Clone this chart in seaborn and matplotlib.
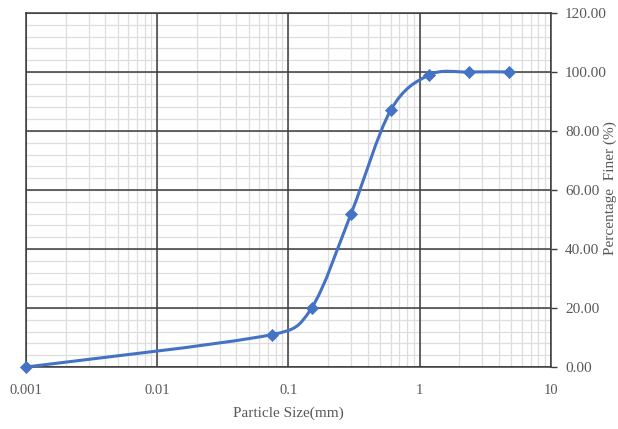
import numpy as np
import pandas as pd
import matplotlib
matplotlib.use("Agg")
import matplotlib.pyplot as plt
from matplotlib.path import Path
from matplotlib.patches import PathPatch
from matplotlib.ticker import FixedLocator, LogLocator, MultipleLocator, NullFormatter
import seaborn as sns

# Sieve analysis results
particle_size_mm = [0.001, 0.075, 0.15, 0.3, 0.6, 1.18, 2.36, 4.75]
percent_finer = [0.0, 11.0, 20.0, 52.0, 87.0, 99.0, 100.0, 100.0]
x_tick_values = [0.001, 0.01, 0.1, 1, 10]
x_tick_labels = ["0.001", "0.01", "0.1", "1", "10"]
y_tick_values = [0, 20, 40, 60, 80, 100, 120]

df = pd.DataFrame({"size": particle_size_mm, "finer": percent_finer})

sns.set_theme(style="white")
plt.rcParams["font.family"] = ["Liberation Serif", "DejaVu Serif"]

W, H = 618, 429
left, right, top, bottom = 26, 551, 13, 367
fig = plt.figure(figsize=(W / 100, H / 100), dpi=100)
ax = fig.add_axes([left / W, 1 - bottom / H, (right - left) / W, (bottom - top) / H])
ax.set_xscale("log")
ax.set_xlim(0.001, 10)
ax.set_ylim(0, 120)

# Light minor grid; dark major lines drawn on top of it
ax.xaxis.set_major_locator(FixedLocator(x_tick_values))
ax.xaxis.set_minor_locator(LogLocator(base=10, subs=np.arange(2, 10)))
ax.xaxis.set_minor_formatter(NullFormatter())
ax.yaxis.set_major_locator(FixedLocator(y_tick_values))
ax.yaxis.set_minor_locator(MultipleLocator(4))
ax.grid(which="both", color="#dedede", linewidth=0.9)
ax.set_axisbelow(True)
for xv in x_tick_values:
    ax.axvline(xv, color="#3c3c3c", linewidth=1.1, zorder=1.5)
for yv_ in y_tick_values:
    ax.axhline(yv_, color="#3c3c3c", linewidth=1.1, zorder=1.5)

# Smoothed curve through the points: cubic Bezier segments whose control
# handles are computed in screen proportions (log-x), capped at half a segment
px_per_decade = (right - left) / 4.0
px_per_unit = (bottom - top) / 120.0
sx = (np.log10(df["size"].to_numpy()) + 3) * px_per_decade
sy = df["finer"].to_numpy() * px_per_unit
pts = np.column_stack([sx, sy])
n = len(pts)


def handle(a, b, seg_len):
    d = b - a
    length = np.hypot(*d)
    if length == 0:
        return np.zeros(2)
    mag = min(length / 6.0, seg_len / 2.0)
    return d / length * mag


verts = [pts[0]]
codes = [Path.MOVETO]
for i in range(n - 1):
    p0 = pts[max(i - 1, 0)]
    p1 = pts[i]
    p2 = pts[i + 1]
    p3 = pts[min(i + 2, n - 1)]
    seg = np.hypot(*(p2 - p1))
    c1 = p1 + handle(p0, p2, seg)
    c2 = p2 - handle(p1, p3, seg)
    verts += [c1, c2, p2]
    codes += [Path.CURVE4] * 3
verts = np.array(verts)
data_verts = np.column_stack([10 ** (verts[:, 0] / px_per_decade - 3),
                              verts[:, 1] / px_per_unit])
curve = PathPatch(Path(data_verts, codes), facecolor="none", edgecolor="#4472c4",
                  linewidth=2.2, zorder=3, capstyle="round", joinstyle="round")
ax.add_patch(curve)

sns.scatterplot(data=df, x="size", y="finer", marker="D", s=38, color="#4472c4",
                edgecolor="#4472c4", linewidth=0.5, zorder=4, ax=ax, legend=False,
                clip_on=False)

# Axes styling
for side in ["left", "top", "bottom", "right"]:
    ax.spines[side].set_visible(True)
    ax.spines[side].set_color("#3c3c3c")
    ax.spines[side].set_linewidth(1.1)
    ax.spines[side].set_zorder(1.6)

ax.yaxis.tick_right()
ax.set_yticklabels([f"{v:.2f}" for v in y_tick_values])
ax.set_xticklabels(x_tick_labels)
ax.tick_params(axis="y", which="major", direction="out", length=4, width=1,
               color="#3c3c3c", labelsize=11, labelcolor="#595959", pad=6,
               right=True, left=False)
ax.tick_params(axis="y", which="minor", length=0)
ax.tick_params(axis="x", which="both", length=0, labelsize=10.5,
               labelcolor="#595959", pad=12)

ax.set_xlabel("Particle Size(mm)", fontsize=11, color="#595959", labelpad=7)
ax.set_ylabel("")
fig.text(610.5 / W, 1 - 188 / H, "Percentage  Finer (%)", fontsize=11,
         color="#595959", rotation=90, ha="center", va="center")

fig.savefig("out.png", dpi=100)
